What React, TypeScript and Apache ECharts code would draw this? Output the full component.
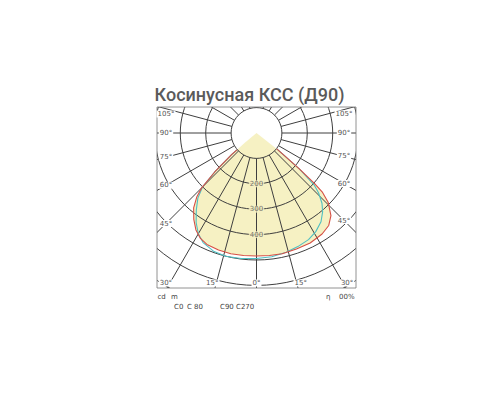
import React, { useEffect, useRef } from "react";
import * as echarts from "echarts";

// C0–C180 plane (red) : angle from nadir in degrees (negative = left), intensity in cd
const RED_ANGLES = [-90, -50, -49, -47, -45, -43, -40, -36, -32, -28, -24, -18, -12, -6, 0, 6, 12, 19, 26, 33, 38, 42, 46, 48, 49, 50, 52, 90];
const RED_VALUES = [0, 60, 130, 225, 305, 345, 385, 420, 450, 470, 480, 484, 486, 485, 484, 485, 486, 483, 482, 474, 462, 438, 392, 350, 302, 220, 100, 0];

// C90–C270 plane (cyan)
const CYAN_ANGLES = [-90, -50, -49, -47, -45, -42, -38, -34, -30, -26, -20, -14, -7, 0, 7, 14, 20, 26, 31, 36, 40, 43, 46, 48, 50, 52, 90];
const CYAN_VALUES = [0, 60, 130, 225, 300, 345, 385, 425, 458, 480, 495, 500, 498, 494, 491, 484, 476, 467, 453, 432, 405, 378, 340, 305, 220, 100, 0];

// radius tick labels shown on the 0° ray
const RADIUS_LABELS = [200, 300, 400];
// angle labels around the frame
const ANGLE_LABELS = [-105, -90, -75, -60, -45, -30, -15, 0, 15, 30, 45, 60, 75, 90, 105];

const TITLE = "Косинусная КСС (Д90)";

// layout
const CX = 256.5;
const CY = 133;
const R100 = 25.4; // px per 100 cd
const L = 157, R = 356, T = 107, B = 288;

const FILL = "#f6f1c3";
const GRID = "#3f3f3f";
const RED = "#d64f45";
const CYAN = "#4fbfc2";
const TXT = "#555";

function angleLabelPos(a: number) {
  const rad = (a * Math.PI) / 180;
  const s = Math.sin(rad);
  const c = Math.cos(rad);
  if (Math.abs(a) >= 45) {
    const x = a < 0 ? L + 9 : R - 12;
    const t = (x - CX) / s;
    let y = CY + t * c;
    if (y < T + 7) y = T + 7;
    return { x, y };
  }
  const y = B - 5;
  const t = (y - CY) / c;
  const x = CX + t * s + Math.sign(a) * 4;
  return { x, y };
}

export default function App() {
  const ref = useRef<HTMLDivElement>(null);
  useEffect(() => {
    if (!ref.current) return;
    const chart = echarts.init(ref.current, undefined, { renderer: "svg" });

    const redData = RED_ANGLES.map((a, i) => [RED_VALUES[i], a]);
    const cyanData = CYAN_ANGLES.map((a, i) => [CYAN_VALUES[i], a]);

    const angleTexts = ANGLE_LABELS.map((a) => {
      const p = angleLabelPos(a);
      return {
        type: "text",
        z: 102,
        silent: true,
        x: p.x,
        y: p.y,
        style: {
          text: Math.abs(a) + "°",
          fill: TXT,
          font: "7px 'DejaVu Sans', sans-serif",
          align: "center",
          verticalAlign: "middle",
          backgroundColor: "#fff",
          padding: [0, 1],
        },
      };
    });

    const smallText = (text: string, x: number, y: number) => ({
      type: "text",
      z: 102,
      silent: true,
      x,
      y,
      style: {
        text,
        fill: "#444",
        font: "7px 'DejaVu Sans', sans-serif",
        align: "left",
        verticalAlign: "middle",
      },
    });

    const option: any = {
      animation: false,
      polar: { center: [CX, CY], radius: [R100, R100 * 8] },
      angleAxis: {
        type: "value",
        min: -180,
        max: 180,
        interval: 15,
        startAngle: 90,
        clockwise: false,
        z: 3,
        axisLine: { show: false },
        axisTick: { show: false },
        axisLabel: { show: false },
        splitLine: { show: true, lineStyle: { color: GRID, width: 1 } },
      },
      radiusAxis: {
        type: "value",
        min: 100,
        max: 800,
        interval: 100,
        z: 3,
        axisLine: { show: false },
        axisTick: { show: false },
        axisLabel: { show: false },
        splitLine: { show: true, lineStyle: { color: GRID, width: 1 } },
      },
      series: [
        {
          type: "custom",
          coordinateSystem: "polar",
          z: 1,
          silent: true,
          data: [[0, 0]],
          renderItem: (params: any, api: any) => {
            if (params.dataIndex !== 0) return null;
            const pts = redData.map((d) => api.coord(d));
            return { type: "polygon", shape: { points: pts }, style: { fill: FILL } };
          },
        },
        {
          type: "line",
          coordinateSystem: "polar",
          name: "C90-C270",
          data: cyanData,
          showSymbol: false,
          symbol: "none",
          clip: false,
          z: 4,
          lineStyle: { color: CYAN, width: 1.1 },
        },
        {
          type: "line",
          coordinateSystem: "polar",
          name: "C0-C180",
          data: redData,
          showSymbol: false,
          symbol: "none",
          clip: false,
          z: 5,
          lineStyle: { color: RED, width: 1.1 },
        },
        {
          type: "scatter",
          coordinateSystem: "polar",
          data: RADIUS_LABELS.map((r) => [r, 0]),
          symbolSize: 1,
          clip: false,
          z: 6,
          itemStyle: { color: "rgba(0,0,0,0)" },
          label: {
            show: true,
            position: "inside",
            formatter: (p: any) => String(p.value[0]),
            color: TXT,
            fontSize: 7,
            fontFamily: "DejaVu Sans, sans-serif",
            backgroundColor: FILL,
            padding: [0, 1],
          },
        },
      ],
      graphic: {
        elements: [
          { type: "rect", z: 100, silent: true, shape: { x: 0, y: 0, width: 500, height: T }, style: { fill: "#fff" } },
          { type: "rect", z: 100, silent: true, shape: { x: 0, y: B, width: 500, height: 400 - B }, style: { fill: "#fff" } },
          { type: "rect", z: 100, silent: true, shape: { x: 0, y: 0, width: L, height: 400 }, style: { fill: "#fff" } },
          { type: "rect", z: 100, silent: true, shape: { x: R, y: 0, width: 500 - R, height: 400 }, style: { fill: "#fff" } },
          {
            type: "rect",
            z: 101,
            silent: true,
            shape: { x: L, y: T, width: R - L, height: B - T },
            style: { fill: "none", stroke: "#777", lineWidth: 0.8 },
          },
          ...angleTexts,
          {
            type: "text",
            z: 102,
            silent: true,
            x: 249.5,
            y: 94.5,
            style: {
              text: TITLE,
              fill: "#5a5a5a",
              font: "500 18px Roboto, sans-serif",
              align: "center",
              verticalAlign: "middle",
            },
          },
          smallText("cd", 157.5, 296.5),
          smallText("m", 171, 296.5),
          smallText("η", 326, 296.5),
          smallText("00%", 339, 296.5),
          smallText("C0", 174, 306.5),
          smallText("C 80", 187, 306.5),
          smallText("C90", 220, 306.5),
          smallText("C270", 236, 306.5),
        ],
      },
    };

    chart.setOption(option);
    return () => chart.dispose();
  }, []);

  return (
    <div
      ref={ref}
      style={{ position: "fixed", left: 0, top: 0, width: 500, height: 400, background: "#fff" }}
    />
  );
}
